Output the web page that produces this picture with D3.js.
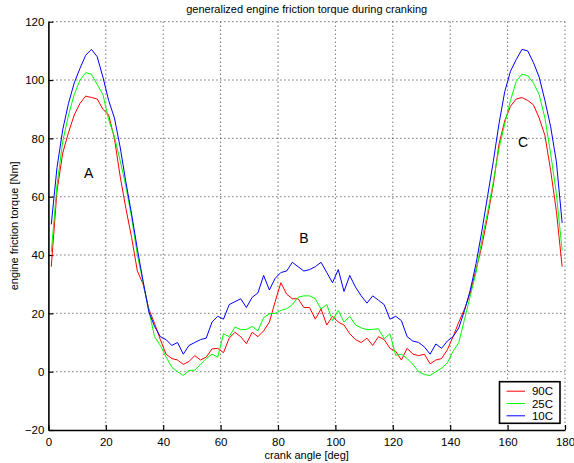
<!DOCTYPE html>
<html>
<head>
<meta charset="utf-8">
<script src="https://cdn.jsdelivr.net/npm/d3@7"></script>
<style>
  body { margin: 0; background: #fff; }
  text { font-family: "Liberation Sans", Arial, Helvetica, sans-serif; fill: #000; }
</style>
</head>
<body>
<script>
// crank angle [deg], one sample every 2 degrees
var angles = [
  1, 3, 5, 7, 9, 11, 13, 15, 17, 19,
  21, 23, 25, 27, 29, 31, 33, 35, 37, 39,
  41, 43, 45, 47, 49, 51, 53, 55, 57, 59,
  61, 63, 65, 67, 69, 71, 73, 75, 77, 79,
  81, 83, 85, 87, 89, 91, 93, 95, 97, 99,
  101, 103, 105, 107, 109, 111, 113, 115, 117, 119,
  121, 123, 125, 127, 129, 131, 133, 135, 137, 139,
  141, 143, 145, 147, 149, 151, 153, 155, 157, 159,
  161, 163, 165, 167, 169, 171, 173, 175, 177, 179
];

var torque90C = [
  36, 62, 75, 82, 88, 92, 94.5, 94, 93.5, 90,
  88, 80, 67, 56, 46, 34.5, 30, 21.5, 16.5, 11,
  6, 4.5, 4, 2.5, 3.5, 5.5, 4, 5, 7.8, 8,
  6.5, 11.5, 13.5, 12, 9.6, 13.5, 12, 14, 17, 24,
  30.5, 26.6, 25, 25, 22, 22, 18, 21.5, 16, 19,
  17, 16, 13, 11, 10, 11.5, 9, 12, 11, 8,
  7, 4, 8, 6, 5.5, 6, 2.7, 4, 4.5, 7.5,
  12, 17, 21.5, 27, 35, 43, 53, 64, 78, 86,
  91, 93.5, 94, 93, 91.5, 87, 81, 69, 55, 36
];

var torque25C = [
  41, 64, 79, 88, 95, 100, 102.5, 102, 98.5, 95,
  86.4, 80.6, 72.4, 63.5, 52.8, 40, 30.5, 21, 12, 9,
  5, 1.5, 0, -1.3, 0.4, 0.5, 2.5, 4.5, 6, 5,
  13, 12, 15.3, 14.4, 14.5, 15.5, 14, 18.5, 19.9, 20,
  21, 21.6, 23, 25.5, 26, 26, 25, 21.5, 23, 17.5,
  21, 17, 19, 16, 15, 14.4, 14.5, 14.7, 11.3, 13,
  5.6, 6, 4.5, 2.5, 0, -1, -1.3, 0, 1.2, 3,
  7, 10, 18, 26, 34, 45, 54.5, 65, 76.5, 85,
  93, 99.5, 102, 101.5, 99, 95, 87, 74.7, 61, 41.5
];

var torque10C = [
  50.5, 70, 83, 92, 99, 104, 108.5, 110.5, 108, 101,
  93, 87, 77, 65, 54, 42, 31, 20.5, 15.5, 12,
  11, 9, 10, 6, 9, 10, 11, 11.5, 17, 19,
  18, 23, 24, 25, 22, 25.5, 27, 33, 28, 32,
  34, 34.5, 37.5, 36, 34.5, 35, 36, 37.5, 34, 30.5,
  35, 27.5, 33, 29, 26, 23.5, 26, 24.5, 23, 18,
  19, 17.5, 12, 10.5, 10, 8.5, 6, 9.5, 8, 10.5,
  12, 15, 21, 28, 37, 48, 60, 72, 85, 96,
  103, 107, 110.5, 110, 106, 101, 93, 84, 72, 51
];

var seriesNames = ["90C", "25C", "10C"];
var seriesColors = ["#ff0000", "#00ff00", "#0000ff"];
var seriesValues = [torque90C, torque25C, torque10C];

var xTicks = [0, 20, 40, 60, 80, 100, 120, 140, 160, 180];
var yTicks = [-20, 0, 20, 40, 60, 80, 100, 120];

// region labels: [text, angle, torque]
var regionLabels = [["A", 14, 68], ["B", 89, 46], ["C", 165.4, 78.7]];

var W = 574, H = 463;
var margin = {top: 21.7, right: 9, bottom: 33, left: 48.4};
var w = W - margin.left - margin.right,
    h = H - margin.top - margin.bottom;

var svg = d3.select("body").append("svg")
    .attr("width", W)
    .attr("height", H);

var g = svg.append("g")
    .attr("transform", "translate(" + margin.left + "," + margin.top + ")");

var x = d3.scaleLinear().domain([0, 180]).range([0, w]);
var y = d3.scaleLinear().domain([-20, 120]).range([h, 0]);

// dotted grid
g.append("g").selectAll("line").data(xTicks.slice(1)).enter().append("line")
    .attr("x1", d => x(d)).attr("x2", d => x(d))
    .attr("y1", 0).attr("y2", h)
    .attr("stroke", "#333").attr("stroke-width", 1)
    .attr("stroke-dasharray", "1,3");
g.append("g").selectAll("line").data(yTicks.slice(1)).enter().append("line")
    .attr("x1", 0).attr("x2", w)
    .attr("y1", d => y(d)).attr("y2", d => y(d))
    .attr("stroke", "#333").attr("stroke-width", 1)
    .attr("stroke-dasharray", "1,3");

// axes, ticks pointing inward
var xAxis = g.append("g")
    .attr("transform", "translate(0," + h + ")")
    .call(d3.axisBottom(x).tickValues(xTicks).tickSizeInner(-5).tickSizeOuter(0).tickPadding(8));
var yAxis = g.append("g")
    .call(d3.axisLeft(y).tickValues(yTicks).tickSizeInner(-5).tickSizeOuter(0).tickPadding(4));

[xAxis, yAxis].forEach(function(a) {
    a.select(".domain").attr("stroke", "#000").attr("stroke-width", 1.6);
    a.selectAll(".tick line").attr("stroke", "#000").attr("stroke-width", 1.2);
    a.selectAll(".tick text").attr("font-size", 11.5)
        .style("font-family", '"Liberation Sans", Arial, sans-serif');
});

// lines
var line = d3.line()
    .x((d, i) => x(angles[i]))
    .y(d => y(d));

seriesValues.forEach(function(vals, k) {
    g.append("path")
        .datum(vals)
        .attr("d", line)
        .attr("fill", "none")
        .attr("stroke", seriesColors[k])
        .attr("stroke-width", 1);
});

// region labels
g.selectAll(".region").data(regionLabels).enter().append("text")
    .attr("class", "region")
    .attr("x", d => x(d[1]))
    .attr("y", d => y(d[2]))
    .attr("dy", "0.36em")
    .attr("text-anchor", "middle")
    .attr("font-size", 14)
    .text(d => d[0]);

// title and axis labels
svg.append("text")
    .attr("x", margin.left + w / 2).attr("y", 13)
    .attr("text-anchor", "middle").attr("font-size", 11)
    .text("generalized engine friction torque during cranking");
svg.append("text")
    .attr("x", margin.left + w / 2).attr("y", 458.5)
    .attr("text-anchor", "middle").attr("font-size", 11)
    .text("crank angle [deg]");
svg.append("text")
    .attr("transform", "translate(18," + (margin.top + h / 2) + ") rotate(-90)")
    .attr("text-anchor", "middle").attr("font-size", 11)
    .text("engine friction torque [Nm]");

// legend
var lg = svg.append("g").attr("transform", "translate(499.5,381.7)");
lg.append("rect")
    .attr("width", 60.5).attr("height", 41.6)
    .attr("fill", "#fff").attr("stroke", "#000").attr("stroke-width", 1.6);
seriesNames.forEach(function(name, k) {
    var ly = 9.5 + k * 12.3;
    lg.append("line")
        .attr("x1", 7).attr("x2", 25.5)
        .attr("y1", ly).attr("y2", ly)
        .attr("stroke", seriesColors[k]).attr("stroke-width", 1);
    lg.append("text")
        .attr("x", 53.5).attr("y", ly).attr("dy", "0.36em")
        .attr("text-anchor", "end").attr("font-size", 11.5)
        .text(name);
});
</script>
</body>
</html>
